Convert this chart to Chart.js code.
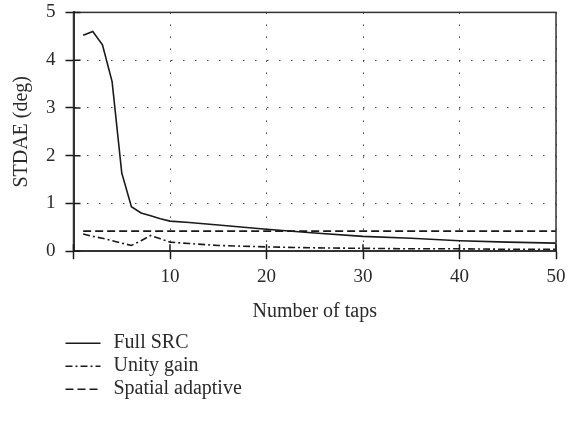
<!DOCTYPE html>
<html>
<head>
<meta charset="utf-8">
<script src="https://cdn.jsdelivr.net/npm/chart.js@4"></script>
<style>
  html, body { margin: 0; padding: 0; background: #fff; }
  #wrap { width: 578px; height: 426px; position: relative; overflow: hidden; }
  #inner { position: absolute; left: 0; top: -9px; width: 578px; height: 435px; }
</style>
</head>
<body>
<div id="wrap"><div id="inner"><canvas id="c"></canvas></div></div>
<script>
/* ── data ── */
const taps       = [1, 2, 3, 4, 5, 6, 7, 8, 9, 10, 12, 15, 20, 25, 30, 35, 40, 45, 50];
const fullSrc    = [4.52, 4.6, 4.32, 3.55, 1.64, 0.93, 0.8, 0.74, 0.68, 0.63, 0.6, 0.55, 0.46, 0.38, 0.31, 0.27, 0.22, 0.19, 0.17];
const unityGain  = [0.36, 0.31, 0.27, 0.22, 0.17, 0.12, 0.22, 0.33, 0.26, 0.19, 0.16, 0.12, 0.09, 0.07, 0.06, 0.05, 0.05, 0.04, 0.04];
const spatialTaps = [1, 50];
const spatialAdp  = [0.42, 0.42];

const xTicks = [0, 10, 20, 30, 40, 50];
const yTicks = [0, 1, 2, 3, 4, 5];

const seriesNames = ['Full SRC', 'Unity gain', 'Spatial adaptive'];

const ink = '#1a1a1a';
Chart.defaults.font.family = "'Liberation Serif', 'DejaVu Serif', serif";
Chart.defaults.font.size   = 19;
Chart.defaults.color       = '#2a2a2a';
const bigFont = { size: 20 };

const pts = (xs, ys) => xs.map((x, i) => ({ x, y: ys[i] }));

/* frame on top/right + inward tick stubs */
const framePlugin = {
  id: 'frame',
  afterDatasetsDraw(chart) {
    const { ctx, chartArea: a, scales } = chart;
    ctx.save();
    ctx.strokeStyle = '#333';
    ctx.lineWidth = 1.5;
    ctx.strokeRect(a.left, a.top, a.right - a.left, a.bottom - a.top);
    ctx.strokeStyle = ink;
    ctx.beginPath();
    scales.y.ticks.forEach(t => {
      const y = scales.y.getPixelForValue(t.value);
      ctx.moveTo(a.left, y); ctx.lineTo(a.left + 7, y);
    });
    scales.x.ticks.forEach(t => {
      const x = scales.x.getPixelForValue(t.value);
      ctx.moveTo(x, a.bottom); ctx.lineTo(x, a.bottom - 7);
    });
    ctx.stroke();
    ctx.restore();
  }
};

/* vertical legend below the axis title */
const legendPlugin = {
  id: 'vlegend',
  afterDraw(chart) {
    const { ctx, chartArea: a } = chart;
    const x0 = a.left - 8, x1 = x0 + 35;
    let y = a.bottom + 92;
    ctx.save();
    ctx.font = Chart.helpers.toFont(Object.assign({}, Chart.defaults.font, bigFont)).string;
    ctx.textBaseline = 'middle';
    ctx.fillStyle = '#2a2a2a';
    chart.data.datasets.forEach(ds => {
      ctx.strokeStyle = ds.borderColor;
      ctx.lineWidth = 1.4;
      ctx.setLineDash(ds.borderDash || []);
      ctx.beginPath();
      ctx.moveTo(x0, y); ctx.lineTo(x1, y);
      ctx.stroke();
      ctx.setLineDash([]);
      ctx.fillText(ds.label, x1 + 13, y);
      y += 23;
    });
    ctx.restore();
  }
};

new Chart(document.getElementById('c'), {
  type: 'line',
  data: {
    datasets: [
      { label: seriesNames[0], data: pts(taps, fullSrc),
        borderColor: ink, borderWidth: 1.6 },
      { label: seriesNames[1], data: pts(taps, unityGain),
        borderColor: ink, borderWidth: 1.6, borderDash: [7, 3, 2, 3] },
      { label: seriesNames[2], data: pts(spatialTaps, spatialAdp),
        borderColor: ink, borderWidth: 1.6, borderDash: [8, 4] },
    ],
  },
  options: {
    responsive: true,
    maintainAspectRatio: false,
    animation: false,
    elements: { point: { radius: 0 }, line: { tension: 0 } },
    layout: { padding: { top: 0, right: 22, left: 10, bottom: 102 } },
    plugins: { legend: { display: false }, tooltip: { enabled: false } },
    scales: {
      x: {
        type: 'linear', min: 0, max: 50,
        afterBuildTicks: s => { s.ticks = xTicks.map(v => ({ value: v })); },
        ticks: { padding: 6, maxRotation: 0, callback: v => (v === 0 ? '' : v) },
        grid: { color: '#444', lineWidth: 1, tickLength: 8, tickColor: ink,
                tickWidth: 1.5, tickBorderDash: [] },
        border: { color: '#333', width: 2, dash: [1.5, 10.5] },
        title: { display: true, text: 'Number of taps', font: bigFont, padding: { top: 6, bottom: 0 } },
      },
      y: {
        min: 0, max: 5,
        afterBuildTicks: s => { s.ticks = yTicks.map(v => ({ value: v })); },
        ticks: { padding: 10 },
        grid: { color: '#444', lineWidth: 1, tickLength: 8, tickColor: ink,
                tickWidth: 1.5, tickBorderDash: [] },
        border: { color: '#333', width: 2, dash: [1.5, 10.5] },
        title: { display: true, text: 'STDAE (deg)', font: bigFont, padding: { top: 0, bottom: 2 } },
      },
    },
  },
  plugins: [framePlugin, legendPlugin],
});
</script>
</body>
</html>
